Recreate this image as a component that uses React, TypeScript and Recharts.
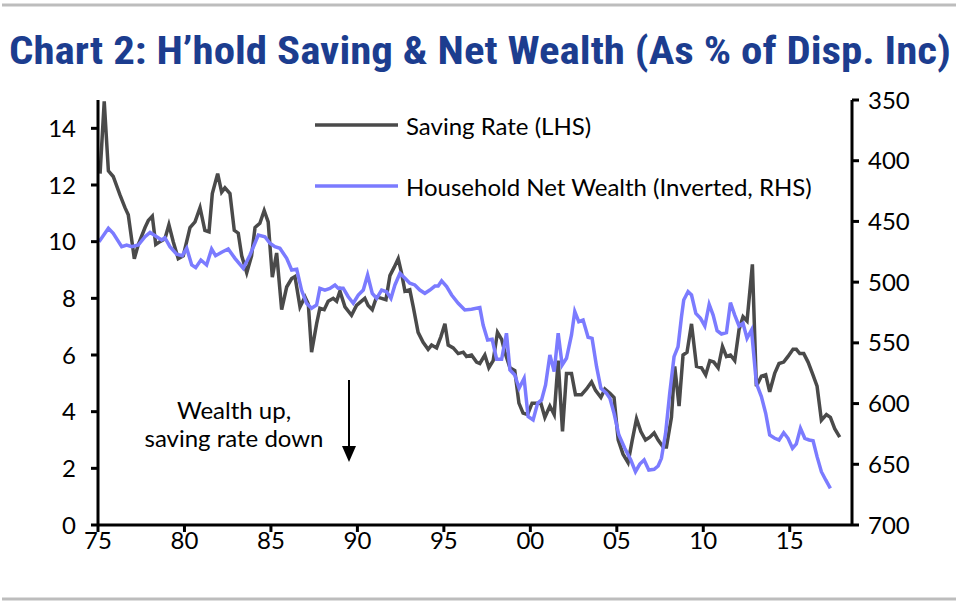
import React from "react";
import { LineChart, Line, XAxis, YAxis, Legend } from "recharts";

const savingYears = [1975.12,1975.36,1975.60,1975.88,1976.27,1976.56,1976.75,1977.10,1977.33,1977.72,1977.91,1978.14,1978.34,1978.58,1978.87,1979.10,1979.35,1979.64,1979.93,1980.32,1980.61,1980.90,1981.18,1981.42,1981.61,1981.92,1982.15,1982.34,1982.63,1982.88,1983.11,1983.31,1983.60,1983.88,1984.08,1984.36,1984.61,1984.84,1985.08,1985.33,1985.62,1985.91,1986.20,1986.39,1986.68,1986.97,1987.16,1987.35,1987.64,1987.83,1988.08,1988.31,1988.60,1988.80,1988.99,1989.28,1989.66,1989.95,1990.24,1990.43,1990.62,1990.86,1991.11,1991.40,1991.65,1991.88,1992.13,1992.36,1992.55,1992.75,1993.03,1993.23,1993.51,1993.80,1994.09,1994.29,1994.58,1994.83,1995.06,1995.25,1995.54,1995.83,1996.12,1996.31,1996.60,1996.89,1997.08,1997.37,1997.60,1997.85,1998.10,1998.34,1998.53,1998.82,1999.10,1999.34,1999.58,1999.84,2000.10,2000.36,2000.61,2000.84,2001.13,2001.38,2001.61,2001.86,2002.09,2002.38,2002.61,2002.96,2003.25,2003.54,2003.77,2004.08,2004.31,2004.60,2004.84,2005.08,2005.36,2005.65,2005.88,2006.14,2006.39,2006.66,2006.91,2007.16,2007.39,2007.68,2007.87,2008.16,2008.35,2008.60,2008.83,2009.06,2009.32,2009.61,2009.90,2010.14,2010.38,2010.61,2010.86,2011.11,2011.34,2011.57,2011.82,2012.07,2012.30,2012.53,2012.84,2013.07,2013.36,2013.61,2013.84,2014.13,2014.38,2014.65,2014.90,2015.19,2015.38,2015.58,2015.81,2016.06,2016.31,2016.58,2016.83,2017.12,2017.35,2017.60,2017.89];

const savingRate = [12.4,14.95,12.5,12.3,11.65,11.2,10.95,9.4,9.9,10.5,10.75,10.9,9.9,10.0,10.1,10.6,10.0,9.4,9.5,10.5,10.7,11.2,10.4,10.35,11.7,12.4,11.75,11.9,11.7,10.4,10.3,9.5,8.9,9.5,10.5,10.65,11.1,10.7,8.75,9.6,7.6,8.4,8.7,8.77,7.7,8.05,7.8,6.1,7.1,7.65,7.6,7.9,8.0,7.9,8.25,7.7,7.4,7.75,7.9,8.0,7.75,7.6,8.05,8.0,7.95,8.8,9.1,9.4,8.9,8.25,8.3,7.7,6.8,6.45,6.2,6.35,6.25,6.65,7.1,6.35,6.25,6.05,6.1,5.95,6.0,5.75,5.7,6.0,5.55,5.8,6.8,6.55,6.1,5.55,5.45,4.3,3.95,3.9,4.3,4.3,4.3,3.8,4.2,3.9,5.8,3.3,5.35,5.35,4.6,4.6,4.8,5.05,4.75,4.5,4.8,4.65,4.5,3.0,2.5,2.2,2.95,3.75,3.3,3.0,3.1,3.25,3.0,2.75,2.75,3.8,5.6,4.2,6.0,6.1,7.1,5.6,5.55,5.3,5.8,5.75,5.55,6.3,5.95,6.0,5.8,6.9,7.35,7.2,9.2,4.9,5.25,5.3,4.7,5.35,5.7,5.75,5.95,6.2,6.2,6.05,6.05,5.75,5.35,4.9,3.7,3.9,3.8,3.4,3.1];

const wealthYears = [1975.06,1975.60,1975.88,1976.37,1976.66,1976.95,1977.33,1977.72,1978.01,1978.39,1978.68,1978.87,1979.16,1979.55,1979.87,1980.13,1980.42,1980.65,1980.95,1981.28,1981.57,1981.80,1982.15,1982.53,1982.92,1983.40,1983.79,1984.27,1984.65,1984.94,1985.23,1985.52,1985.91,1986.20,1986.49,1986.77,1987.06,1987.35,1987.64,1987.83,1988.12,1988.41,1988.70,1988.89,1989.18,1989.47,1989.76,1990.05,1990.34,1990.59,1990.86,1991.11,1991.40,1991.69,1991.94,1992.17,1992.46,1992.75,1993.03,1993.32,1993.61,1993.90,1994.19,1994.48,1994.67,1994.87,1995.16,1995.45,1995.83,1996.21,1996.60,1997.08,1997.27,1997.53,1997.79,1998.05,1998.34,1998.62,1998.82,1999.10,1999.35,1999.64,1999.87,2000.16,2000.42,2000.65,2000.88,2001.13,2001.38,2001.61,2001.84,2002.09,2002.38,2002.57,2002.80,2003.05,2003.34,2003.57,2003.83,2004.08,2004.40,2004.60,2004.84,2005.12,2005.46,2005.81,2006.08,2006.33,2006.58,2006.85,2007.16,2007.39,2007.58,2007.82,2008.06,2008.31,2008.54,2008.74,2008.87,2009.12,2009.32,2009.57,2009.84,2010.09,2010.34,2010.57,2010.80,2011.05,2011.34,2011.57,2011.82,2012.07,2012.30,2012.53,2012.79,2013.07,2013.36,2013.61,2013.84,2014.13,2014.38,2014.65,2014.90,2015.16,2015.38,2015.62,2015.87,2016.12,2016.35,2016.58,2016.83,2017.08,2017.35];

const netWealth = [466.7,455.7,459.8,470.8,469.4,470.8,469.4,462.6,459,462.6,465.3,463.4,470.8,477,478.2,472.1,485.9,488.1,481.8,485.9,472.7,478.2,475.4,472.7,480.4,488.6,477.6,461.2,462.6,468,470.8,472.1,480.4,490,489.4,506.5,517.4,521.5,518.8,505.1,506.5,505.1,502.3,505.1,505.1,512,517.4,510.6,506.5,494.1,509.2,513.3,506.5,507.9,513.3,502.3,492.7,496.8,500.9,502.3,506.5,509.2,506.5,503.2,503.2,499,503.7,510.6,517.4,522.9,522.3,521,535.3,547.6,547,563.5,563.5,542.1,572.3,576.5,587.4,579.2,610.7,613.5,599.8,597,584.7,560,573.7,542.1,568.2,562.7,543.5,524.3,532.6,531.2,545.4,546.3,569.6,587.4,591.5,595.7,608,625.9,636.8,646.5,656.1,649.8,646.5,654.7,654.1,651.4,645.1,624.5,591.5,561.4,553.2,528.5,514.7,507.9,510.6,525.7,529.8,536.1,518.3,527.1,540,542.7,541.6,516.9,527.1,536.1,533.9,546.3,539.4,583.3,594.3,608,625.9,628.6,630,624,628.6,636.8,633.3,620.4,628.6,630,630.6,643.7,656.1,662.9,669.8];

const xTicks = [1975, 1980, 1985, 1990, 1995, 2000, 2005, 2010, 2015];
const leftTicks = [0, 2, 4, 6, 8, 10, 12, 14];
const rightTicks = [350, 400, 450, 500, 550, 600, 650, 700];

const titleText = "Chart 2: H\u2019hold Saving & Net Wealth (As % of Disp. Inc)";
const savingLabel = "Saving Rate (LHS)";
const wealthLabel = "Household Net Wealth (Inverted, RHS)";
const noteLines = ["Wealth up,", "saving rate down"];

const SAVING_COLOR = "#4a4a4a";
const WEALTH_COLOR = "#7b7bff";
const FONT = "Lato, 'Open Sans', sans-serif";
const FS = 24;

type Row = { year: number; saving?: number; wealth?: number };

const table: Row[] = (() => {
  const m = new Map<number, Row>();
  savingYears.forEach((y, i) => {
    const r = m.get(y) || { year: y };
    r.saving = savingRate[i];
    m.set(y, r);
  });
  wealthYears.forEach((y, i) => {
    const r = m.get(y) || { year: y };
    r.wealth = netWealth[i];
    m.set(y, r);
  });
  return Array.from(m.values()).sort((a, b) => a.year - b.year);
})();

const fmtYear = (v: number) => String(v % 100).padStart(2, "0");

const renderLegend = () => (
  <svg width={560} height={90} style={{ display: "block" }}>
    <line x1={0} x2={83} y1={13} y2={13} stroke={SAVING_COLOR} strokeWidth={3.5} />
    <text x={91} y={13} dominantBaseline="central" fontFamily={FONT} fontSize={FS} fill="#000">
      {savingLabel}
    </text>
    <line x1={0} x2={83} y1={74} y2={74} stroke={WEALTH_COLOR} strokeWidth={3.5} />
    <text x={91} y={74} dominantBaseline="central" fontFamily={FONT} fontSize={FS} fill="#000">
      {wealthLabel}
    </text>
  </svg>
);

const tickStyle = { fontFamily: FONT, fontSize: FS, fill: "#000" };

export default function App() {
  return (
    <div style={{ position: "absolute", left: 0, top: 0, width: 960, height: 604, background: "#fff", overflow: "hidden" }}>
      <svg width={960} height={604} style={{ position: "absolute", left: 0, top: 0 }}>
        <line x1={2} x2={956} y1={5} y2={5} stroke="#bdbdbd" strokeWidth={3} />
        <line x1={2} x2={956} y1={599} y2={599} stroke="#bdbdbd" strokeWidth={3} />
        <text
          x={9}
          y={64}
          textLength={942}
          lengthAdjust="spacingAndGlyphs"
          fontFamily="'Liberation Sans Narrow', 'Arial Narrow', 'Roboto Condensed', Roboto, 'Liberation Sans', sans-serif"
          fontWeight={700}
          fontSize={39}
          fill="#1c3d8f"
        >
          {titleText}
        </text>
      </svg>
      <div style={{ position: "absolute", left: 0, top: 0 }}>
        <LineChart width={960} height={604} data={table} margin={{ top: 100, right: 0, bottom: 39, left: 0 }}>
          <XAxis
            dataKey="year"
            type="number"
            domain={[1975, 2018.6]}
            allowDataOverflow
            ticks={xTicks}
            tickFormatter={fmtYear}
            height={40}
            axisLine={{ stroke: "#000", strokeWidth: 3 }}
            tickLine={{ stroke: "#000", strokeWidth: 3 }}
            tickSize={7}
            tickMargin={0}
            tick={tickStyle}
            interval={0}
          />
          <YAxis
            yAxisId="left"
            domain={[0, 15]}
            ticks={leftTicks}
            allowDataOverflow
            width={98}
            axisLine={{ stroke: "#000", strokeWidth: 3 }}
            tickLine={{ stroke: "#000", strokeWidth: 3 }}
            tickSize={7}
            tickMargin={15}
            tick={tickStyle}
            interval={0}
          />
          <YAxis
            yAxisId="right"
            orientation="right"
            reversed
            domain={[350, 700]}
            ticks={rightTicks}
            allowDataOverflow
            width={108}
            axisLine={{ stroke: "#000", strokeWidth: 3 }}
            tickLine={{ stroke: "#000", strokeWidth: 3 }}
            tickSize={7}
            tickMargin={9}
            tick={tickStyle}
            interval={0}
          />
          <Legend
            content={renderLegend}
            layout="horizontal"
            verticalAlign="middle"
            align="center"
            wrapperStyle={{ left: 315, top: 112, width: 560 }}
          />
          <Line
            yAxisId="left"
            dataKey="saving"
            name={savingLabel}
            stroke={SAVING_COLOR}
            strokeWidth={3.5}
            dot={false}
            connectNulls
            isAnimationActive={false}
            type="linear"
          />
          <Line
            yAxisId="right"
            dataKey="wealth"
            name={wealthLabel}
            stroke={WEALTH_COLOR}
            strokeWidth={3.5}
            dot={false}
            connectNulls
            isAnimationActive={false}
            type="linear"
          />
        </LineChart>
      </div>
      <svg width={960} height={604} style={{ position: "absolute", left: 0, top: 0, pointerEvents: "none" }}>
        <text x={234} y={409} textAnchor="middle" dominantBaseline="central" fontFamily={FONT} fontSize={FS} fill="#000">
          {noteLines[0]}
        </text>
        <text x={234} y={437} textAnchor="middle" dominantBaseline="central" fontFamily={FONT} fontSize={FS} fill="#000">
          {noteLines[1]}
        </text>
        <line x1={349} x2={349} y1={380} y2={450} stroke="#000" strokeWidth={2} />
        <polygon points="342,446 356,446 349,462" fill="#000" />
      </svg>
    </div>
  );
}
